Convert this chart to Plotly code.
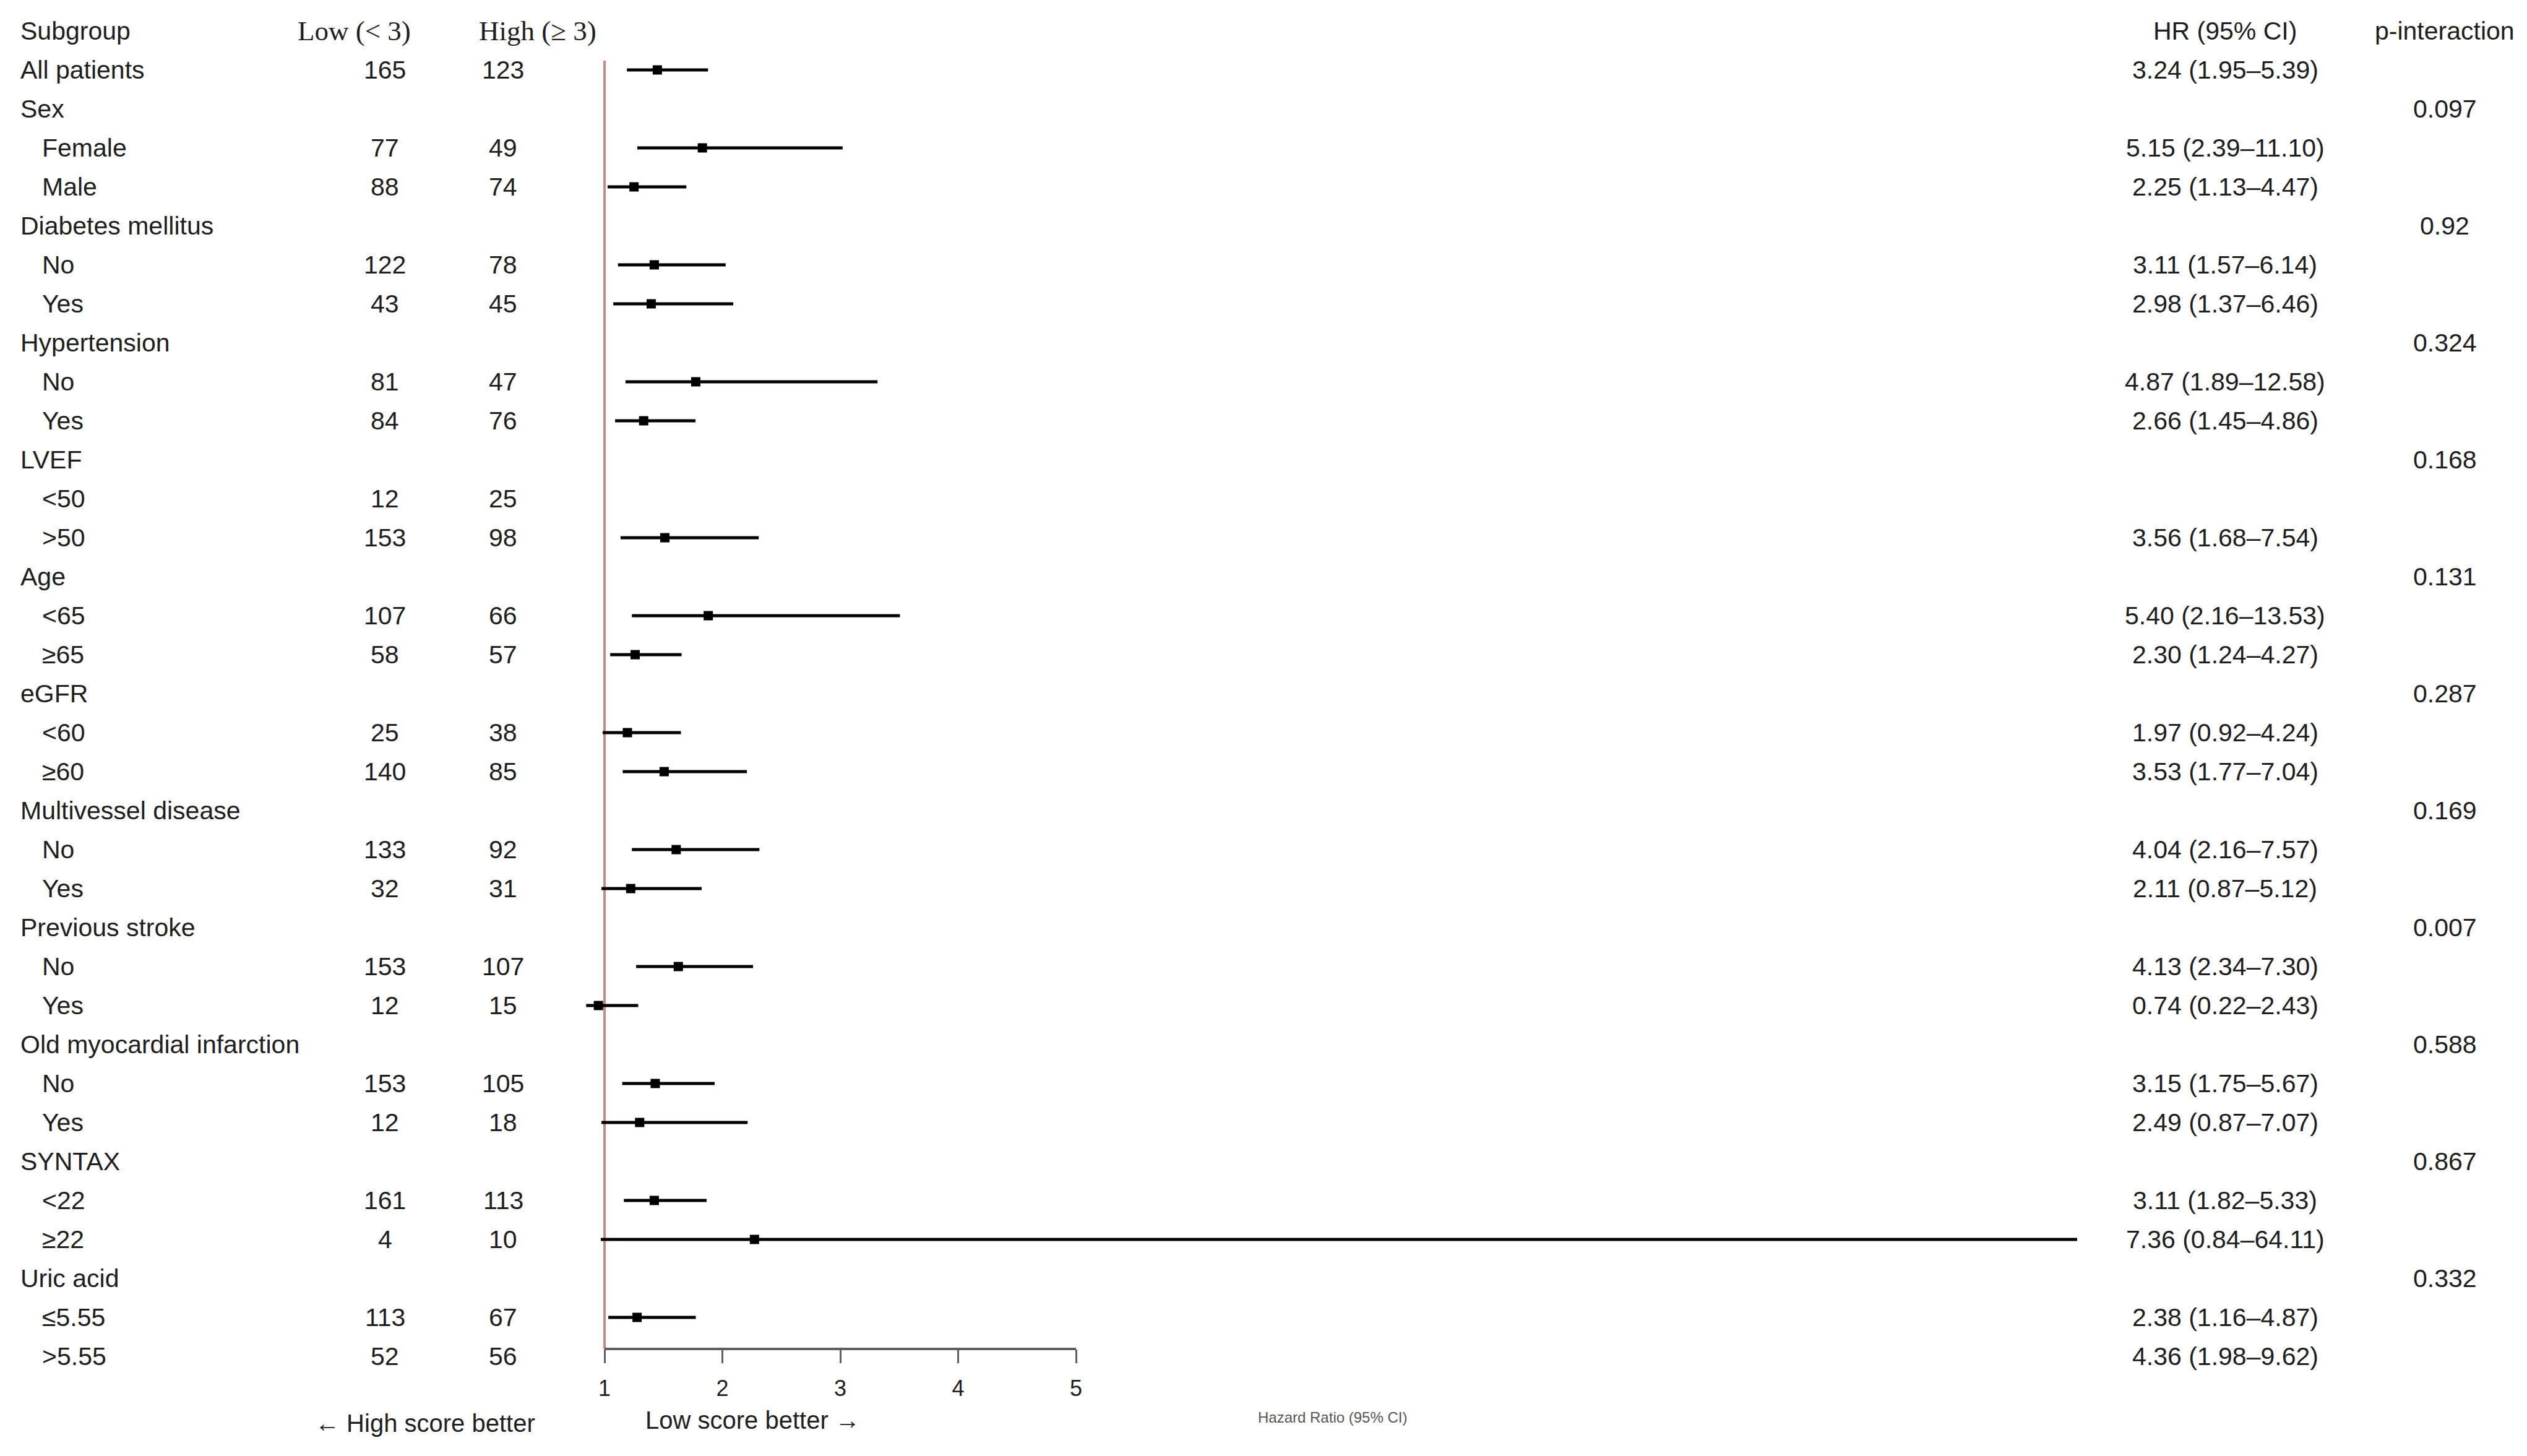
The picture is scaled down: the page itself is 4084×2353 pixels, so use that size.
import plotly.graph_objects as go

# ── Data ───────────────────────────────────────────────────────────────────────
SUBGROUPS = [
    "All patients", "Sex", "Female", "Male", "Diabetes mellitus", "No", "Yes",
    "Hypertension", "No", "Yes", "LVEF", "<50", ">50", "Age", "<65", "≥65",
    "eGFR", "<60", "≥60", "Multivessel disease", "No", "Yes", "Previous stroke",
    "No", "Yes", "Old myocardial infarction", "No", "Yes", "SYNTAX", "<22", "≥22",
    "Uric acid", "≤5.55", ">5.55",
]
INDENTED = [
    False, False, True, True, False, True, True,
    False, True, True, False, True, True, False, True, True,
    False, True, True, False, True, True, False,
    True, True, False, True, True, False, True, True,
    False, True, True,
]
N_LOW = [165, None, 77, 88, None, 122, 43, None, 81, 84, None, 12, 153, None, 107, 58,
         None, 25, 140, None, 133, 32, None, 153, 12, None, 153, 12, None, 161, 4,
         None, 113, 52]
N_HIGH = [123, None, 49, 74, None, 78, 45, None, 47, 76, None, 25, 98, None, 66, 57,
          None, 38, 85, None, 92, 31, None, 107, 15, None, 105, 18, None, 113, 10,
          None, 67, 56]
HR_TEXT = [
    "3.24 (1.95–5.39)", "", "5.15 (2.39–11.10)", "2.25 (1.13–4.47)", "",
    "3.11 (1.57–6.14)", "2.98 (1.37–6.46)", "", "4.87 (1.89–12.58)",
    "2.66 (1.45–4.86)", "", "", "3.56 (1.68–7.54)", "", "5.40 (2.16–13.53)",
    "2.30 (1.24–4.27)", "", "1.97 (0.92–4.24)", "3.53 (1.77–7.04)", "",
    "4.04 (2.16–7.57)", "2.11 (0.87–5.12)", "", "4.13 (2.34–7.30)",
    "0.74 (0.22–2.43)", "", "3.15 (1.75–5.67)", "2.49 (0.87–7.07)", "",
    "3.11 (1.82–5.33)", "7.36 (0.84–64.11)", "", "2.38 (1.16–4.87)",
    "4.36 (1.98–9.62)",
]
P_INTERACTION = ["", "0.097", "", "", "0.92", "", "", "0.324", "", "", "0.168", "", "",
                 "0.131", "", "", "0.287", "", "", "0.169", "", "", "0.007", "", "",
                 "0.588", "", "", "0.867", "", "", "0.332", "", ""]
# point estimates and CI drawn in the panel (last row is hidden under the axis in the original)
HR = [3.24, None, 5.15, 2.25, None, 3.11, 2.98, None, 4.87, 2.66, None, None, 3.56,
      None, 5.40, 2.30, None, 1.97, 3.53, None, 4.04, 2.11, None, 4.13, 0.74, None,
      3.15, 2.49, None, 3.11, 7.36, None, 2.38, None]
CI_LOW = [1.95, None, 2.39, 1.13, None, 1.57, 1.37, None, 1.89, 1.45, None, None, 1.68,
          None, 2.16, 1.24, None, 0.92, 1.77, None, 2.16, 0.87, None, 2.34, 0.22, None,
          1.75, 0.87, None, 1.82, 0.84, None, 1.16, None]
CI_HIGH = [5.39, None, 11.10, 4.47, None, 6.14, 6.46, None, 12.58, 4.86, None, None, 7.54,
           None, 13.53, 4.27, None, 4.24, 7.04, None, 7.57, 5.12, None, 7.30, 2.43, None,
           5.67, 7.07, None, 5.33, 64.11, None, 4.87, None]
AXIS_TICKS = [1, 2, 3, 4, 5]

# ── Look ───────────────────────────────────────────────────────────────────────
W, H = 4084, 2353
PAGE_MARGIN = 8                # default body margin of the html page
SANS = "Liberation Sans, Arial, sans-serif"
SERIF = "Liberation Serif, Times New Roman, serif"
TXT = "#1e1e1e"
FS = 41
REF_COLOR = "#c28a82"
AXIS_COLOR = "#5f5f5f"

ROW0, ROW_H = 113 - PAGE_MARGIN, 63      # pixel centre of first row, row pitch
PX_ONE, PX_UNIT = 977 - PAGE_MARGIN, 190.5
PX_CLIP = 3357 - PAGE_MARGIN             # right edge of the drawing panel
AXIS_PY = 2180
SCALE = 0.2                              # panel units per HR unit (as in the original)


def to_axis(v):
    return 1 + (v - 1) * SCALE


def px(x):
    return (x - PAGE_MARGIN) / W


def py(y):
    return 1 - (y - PAGE_MARGIN) / H


rows = list(range(len(SUBGROUPS)))

ci_x, ci_y, pt_x, pt_y = [], [], [], []
for i in rows:
    if HR[i] is None:
        continue
    ci_x += [to_axis(CI_LOW[i]), to_axis(CI_HIGH[i]), None]
    ci_y += [i, i, None]
    pt_x.append(to_axis(HR[i]))
    pt_y.append(i)

fig = go.Figure()
fig.add_trace(go.Scatter(x=ci_x, y=ci_y, mode="lines",
                         line=dict(color="black", width=5), hoverinfo="skip"))
fig.add_trace(go.Scatter(x=pt_x, y=pt_y, mode="markers",
                         marker=dict(symbol="square", size=15, color="black"),
                         hoverinfo="skip"))

ann = []


def add_text(x, y, text, anchor="center", size=FS, family=SANS, color=TXT, yref="y"):
    ann.append(dict(x=x, y=y, xref="paper", yref=yref, text=text, showarrow=False,
                    xanchor=anchor, yanchor="middle",
                    font=dict(family=family, size=size, color=color)))


# header row
add_text(px(31), -1, "Subgroup", anchor="left")
add_text(px(572), -1, "Low (< 3)", family=SERIF, size=45)
add_text(px(869), -1, "High (≥ 3)", family=SERIF, size=45)
add_text(px(3596), -1, "HR (95% CI)")
add_text(px(3951), -1, "p-interaction")

for i in rows:
    add_text(px(66 if INDENTED[i] else 31), i, SUBGROUPS[i], anchor="left")
    if N_LOW[i] is not None:
        add_text(px(622), i, str(N_LOW[i]))
        add_text(px(813), i, str(N_HIGH[i]))
    if HR_TEXT[i]:
        add_text(px(3596), i, HR_TEXT[i])
    if P_INTERACTION[i]:
        add_text(px(3951), i, P_INTERACTION[i])

add_text(px(687), py(2300), "← High score better", yref="paper", size=40)
add_text(px(1216), py(2295), "Low score better →", yref="paper", size=40)
add_text(px(2153), py(2290), "Hazard Ratio (95% CI)", yref="paper", size=24,
         color="#555555")

shapes = [
    # reference line at HR = 1
    dict(type="line", xref="x", yref="paper", x0=1, x1=1, y0=py(98), y1=py(AXIS_PY),
         line=dict(color=REF_COLOR, width=4), layer="below"),
    # axis line
    dict(type="line", xref="x", yref="paper", x0=AXIS_TICKS[0], x1=AXIS_TICKS[-1],
         y0=py(AXIS_PY), y1=py(AXIS_PY), line=dict(color=AXIS_COLOR, width=4)),
]

x_lo = 1 - PX_ONE / PX_UNIT
x_hi = 1 + (PX_CLIP - PX_ONE) / PX_UNIT
y_top = -ROW0 / ROW_H
y_bot = (H - ROW0) / ROW_H

fig.update_layout(
    width=W, height=H,
    margin=dict(l=0, r=0, t=0, b=0),
    paper_bgcolor="white", plot_bgcolor="white",
    showlegend=False,
    annotations=ann,
    shapes=shapes,
    xaxis=dict(domain=[0, PX_CLIP / W], range=[x_lo, x_hi], showgrid=False,
               zeroline=False, showline=False, anchor="free", position=py(AXIS_PY),
               tickmode="array", tickvals=AXIS_TICKS, ticktext=[str(t) for t in AXIS_TICKS],
               ticks="outside", ticklen=22, tickwidth=3, tickcolor=AXIS_COLOR,
               ticklabelstandoff=10,
               tickfont=dict(family=SANS, size=36, color=TXT)),
    yaxis=dict(domain=[0, 1], range=[y_bot, y_top], visible=False, showgrid=False,
               zeroline=False),
)

fig.write_html("out.html")
